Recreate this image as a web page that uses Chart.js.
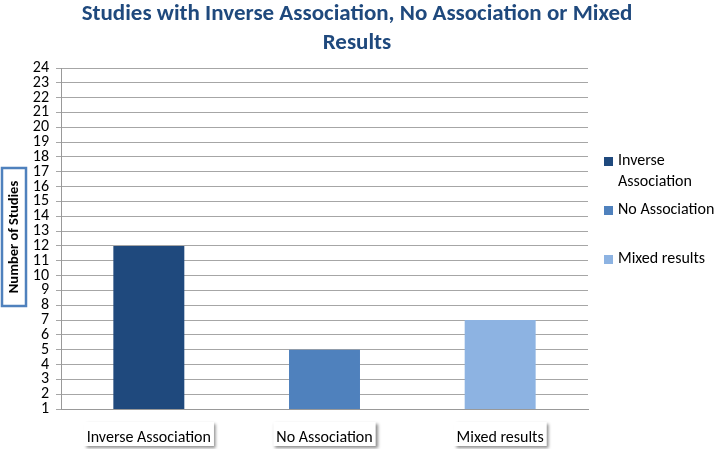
<!DOCTYPE html>
<html>
<head>
<meta charset="utf-8">
<script src="https://cdn.jsdelivr.net/npm/chart.js@4/dist/chart.umd.min.js"></script>
<style>
  html, body { margin: 0; padding: 0; background: #fff; }
  #wrap { width: 716px; height: 449px; }
</style>
</head>
<body>
<div id="wrap"><canvas id="chart" width="716" height="449"></canvas></div>
<script>
const titleLines = ['Studies with Inverse Association, No Association or Mixed', 'Results'];
const categories = ['Inverse Association', 'No Association', 'Mixed results'];
const legendLines = [['Inverse', 'Association'], ['No Association'], ['Mixed results']];
const studyCounts = [12, 5, 7];
const barColors = ['#1F497D', '#4F81BD', '#8DB3E2'];
const yAxisTitle = 'Number of Studies';
const yMin = 1;
const yMax = 24;

const FONT = 'Carlito, Lato, sans-serif';

const decorPlugin = {
  id: 'decor',
  beforeDraw(chart) {
    // boxes with shadow behind the x labels
    const ctx = chart.ctx;
    const xs = chart.scales.x;
    ctx.save();
    ctx.font = '16px ' + FONT;
    categories.forEach((c, i) => {
      const x = xs.getPixelForTick(i);
      const w = ctx.measureText(c).width + 6;
      ctx.shadowColor = 'rgba(0,0,0,0.45)';
      ctx.shadowBlur = 3;
      ctx.shadowOffsetX = 2;
      ctx.shadowOffsetY = 2;
      ctx.fillStyle = '#fff';
      ctx.fillRect(x - w / 2, 422, w, 24);
    });
    ctx.restore();
  },
  afterDraw(chart) {
    const ctx = chart.ctx;
    ctx.save();
    // title
    ctx.fillStyle = '#1F497D';
    ctx.font = 'bold 23px ' + FONT;
    ctx.textAlign = 'center';
    ctx.textBaseline = 'middle';
    titleLines.forEach((t, i) => ctx.fillText(t, 357, 14 + i * 29));

    // y axis title with blue box
    ctx.translate(14, 237);
    ctx.rotate(-Math.PI / 2);
    ctx.font = 'bold 14.5px ' + FONT;
    ctx.fillStyle = '#000';
    ctx.fillText(yAxisTitle, 0, 0);
    ctx.strokeStyle = '#4F81BD';
    ctx.lineWidth = 2.5;
    ctx.strokeRect(-69, -12, 138, 24);
    ctx.setTransform(1, 0, 0, 1, 0, 0);

    // legend
    const ys = [161, 210, 259];
    ctx.font = '16px ' + FONT;
    ctx.textAlign = 'left';
    legendLines.forEach((lines, i) => {
      ctx.fillStyle = barColors[i];
      ctx.fillRect(604, ys[i] - 4, 9, 9);
      ctx.fillStyle = '#000';
      lines.forEach((l, j) => ctx.fillText(l, 618, ys[i] + j * 21));
    });
    ctx.restore();
  }
};

new Chart(document.getElementById('chart'), {
  type: 'bar',
  data: {
    labels: categories,
    datasets: [{
      label: yAxisTitle,
      data: studyCounts,
      backgroundColor: barColors,
      barPercentage: 0.404,
      categoryPercentage: 1
    }]
  },
  options: {
    responsive: false,
    animation: false,
    layout: { padding: { top: 68, right: 128, left: 0, bottom: 0 } },
    plugins: {
      legend: { display: false },
      title: { display: false },
      tooltip: { enabled: false }
    },
    scales: {
      x: {
        grid: { display: false },
        border: { display: true, color: '#999', width: 1 },
        ticks: { color: '#000', font: { family: FONT, size: 16 }, padding: 11, maxRotation: 0 },
        afterFit: (s) => { s.height = 40; }
      },
      y: {
        min: yMin,
        max: yMax,
        grid: { color: '#a6a6a6', tickLength: 5 },
        border: { display: true, color: '#999', width: 1 },
        ticks: { stepSize: 1, color: '#000', font: { family: FONT, size: 16 }, padding: 7, autoSkip: false },
        afterFit: (s) => { s.width = 61; }
      }
    }
  },
  plugins: [decorPlugin]
});
</script>
</body>
</html>
